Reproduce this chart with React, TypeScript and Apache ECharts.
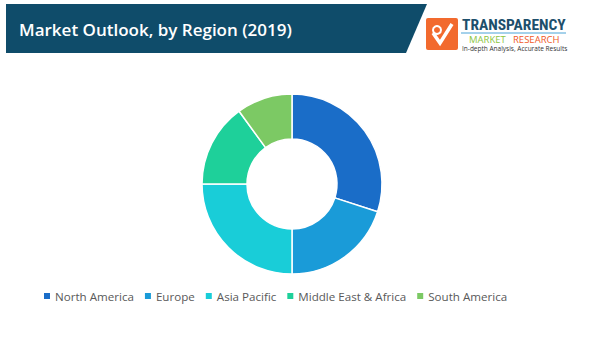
import React, { useEffect, useRef } from "react";
import * as echarts from "echarts";

const categories = ["North America", "Europe", "Asia Pacific", "Middle East & Africa", "South America"];
const shares = [30, 20, 25, 15, 10];
const colors = ["#1a6dc8", "#1a9bd8", "#19cdd8", "#1ed09a", "#7cc964"];
const titleText = "Market Outlook, by Region (2019)";

export default function App() {
  const ref = useRef<HTMLDivElement>(null);
  useEffect(() => {
    if (!ref.current) return;
    const chart = echarts.init(ref.current, null, { renderer: "svg" });
    chart.setOption({
      animation: false,
      backgroundColor: "#ffffff",
      color: colors,
      legend: {
        left: 37,
        top: 285,
        itemWidth: 8,
        itemHeight: 8,
        itemGap: 9,
        icon: "rect",
        textStyle: { color: "#595959", fontSize: 11.6, fontFamily: "Open Sans", padding: [0, 0, 0, -1] },
        data: categories,
      },
      graphic: [
        {
          type: "polygon",
          shape: { points: [[6, 4], [427, 4], [406, 53], [6, 53]] },
          style: { fill: "#0f4c6a" },
        },
        {
          type: "text",
          x: 19,
          y: 29,
          style: {
            text: titleText,
            fill: "#ffffff",
            font: "600 17px 'Open Sans'",
            textVerticalAlign: "middle",
          },
        },
        {
          type: "rect",
          shape: { x: 426, y: 18, width: 32, height: 32, r: 2 },
          style: { fill: "#f26a2e" },
        },
        {
          type: "polyline",
          shape: { points: [[433, 33], [440, 43], [452, 24]] },
          style: { stroke: "#ffffff", lineWidth: 3.5, fill: null },
        },
        {
          type: "circle",
          shape: { cx: 437, cy: 30, r: 4 },
          style: { stroke: "#ffffff", lineWidth: 2, fill: null },
        },
        {
          type: "text",
          x: 462,
          y: 25,
          style: {
            text: "TRANSPARENCY",
            fill: "#1d4f6b",
            font: "bold 15.5px 'Liberation Sans Narrow', 'Roboto Condensed', 'Liberation Sans'",
            textVerticalAlign: "middle",
          },
        },
        {
          type: "line",
          shape: { x1: 461, y1: 33, x2: 566, y2: 33 },
          style: { stroke: "#4aa3d6", lineWidth: 1 },
        },
        {
          type: "text",
          x: 469,
          y: 39,
          style: {
            text: "MARKET",
            fill: "#8cc63f",
            font: "9.5px 'Open Sans'",
            lineHeight: 10,
            textVerticalAlign: "middle",
          },
        },
        {
          type: "text",
          x: 513,
          y: 39,
          style: {
            text: "RESEARCH",
            fill: "#f05a28",
            font: "9.5px 'Open Sans'",
            lineHeight: 10,
            textVerticalAlign: "middle",
          },
        },
        {
          type: "text",
          x: 462,
          y: 48.5,
          style: {
            text: "In-depth Analysis, Accurate Results",
            fill: "#333333",
            font: "6.5px 'Open Sans'",
            lineHeight: 7,
            textVerticalAlign: "middle",
          },
        },
      ],
      series: [
        {
          type: "pie",
          center: [292, 184],
          radius: [45, 90],
          startAngle: 90,
          clockwise: true,
          label: { show: false },
          labelLine: { show: false },
          itemStyle: { borderColor: "#ffffff", borderWidth: 1.5 },
          data: categories.map((name, i) => ({ name, value: shares[i] })),
        },
      ],
    });
    return () => chart.dispose();
  }, []);
  return <div ref={ref} style={{ position: "fixed", left: 0, top: 0, width: 602, height: 344 }} />;
}
